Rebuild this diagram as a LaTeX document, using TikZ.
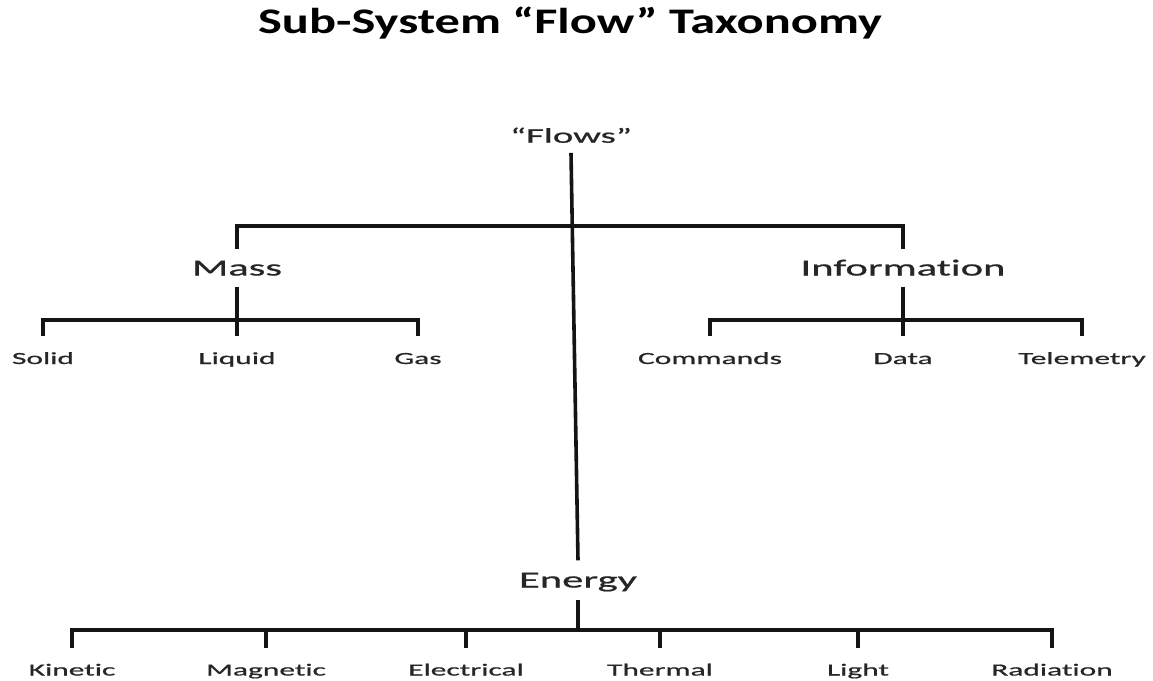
\documentclass[tikz,border=0pt]{standalone}
\usepackage{fontspec}
\setmainfont{Carlito}
% wide, tracked sans for the tree labels and a bold one for the heading
\newfontfamily\treefont[FakeStretch=1.85, FakeBold=0.8, Ligatures=NoCommon]{Carlito}
\newfontfamily\headfont[FakeStretch=1.4, Ligatures=NoCommon]{Carlito}
\begin{document}
\begin{tikzpicture}[x=1bp,y=-1bp,
  branch/.style={line width=3.6bp, draw=black!92},
  heading/.style={inner sep=0pt, text=black, font=\headfont\bfseries\fontsize{36bp}{40bp}\selectfont},
  roottext/.style={inner xsep=0pt, inner ysep=10bp, text height=13.5bp, text depth=0pt,
    text=black!85, font=\treefont\fontsize{21bp}{24bp}\selectfont},
  midtext/.style={inner xsep=0pt, inner ysep=11bp, text height=15bp, text depth=0pt,
    text=black!85, font=\treefont\fontsize{23bp}{26bp}\selectfont},
  leaftext/.style={inner xsep=0pt, inner ysep=16.5bp, text height=11bp, text depth=0pt,
    text=black!85, font=\treefont\fontsize{17bp}{20bp}\selectfont}]
\useasboundingbox[fill=white] (0,0) rectangle (1153,681);

% heading
\node[heading] (title) at (570,23) {Sub-System “Flow” Taxonomy};

% root and the three main classes
\node[roottext] (flows) at (571,136) {“Flows”};
\node[midtext] (mass) at (237,268) {Mass};
\node[midtext] (info) at (903,268) {Information};
\node[midtext, inner ysep=12bp] (energy) at (578,580) {Energy};

% leaves of Mass
\node[leaftext] (solid)  at (43,358.5)  {Solid};
\node[leaftext] (liquid) at (237,358.5) {Liquid};
\node[leaftext] (gas)    at (418,358.5) {Gas};

% leaves of Information
\node[leaftext] (cmd)  at (710,358.5)  {Commands};
\node[leaftext] (data) at (903,358.5)  {Data};
\node[leaftext] (tele) at (1082,358.5) {Telemetry};

% leaves of Energy
\node[leaftext] (kin)   at (72,670)   {Kinetic};
\node[leaftext] (mag)   at (266,670)  {Magnetic};
\node[leaftext] (elec)  at (466,670)  {Electrical};
\node[leaftext] (therm) at (660,670)  {Thermal};
\node[leaftext] (light) at (858,670)  {Light};
\node[leaftext] (rad)   at (1052,670) {Radiation};

% heights of the horizontal bars
\coordinate (topbar) at (0,226);
\coordinate (mbar) at (0,320);
\coordinate (ebar) at (0,630);

% trunk from the root down to Energy
\draw[branch] (flows.south) -- (energy.north);

% Mass / Information bar
\draw[branch] (mass.north) -- (mass.north |- topbar) -- (info.north |- topbar) -- (info.north);

% Mass subtree
\draw[branch] (mass.south) -- (liquid.north);
\draw[branch] (solid.north) -- (solid.north |- mbar) -- (gas.north |- mbar) -- (gas.north);

% Information subtree
\draw[branch] (info.south) -- (data.north);
\draw[branch] (cmd.north) -- (cmd.north |- mbar) -- (tele.north |- mbar) -- (tele.north);

% Energy subtree
\draw[branch] (energy.south) -- (energy.south |- ebar);
\draw[branch] (kin.north) -- (kin.north |- ebar) -- (rad.north |- ebar) -- (rad.north);
\draw[branch] (mag.north) -- (mag.north |- ebar);
\draw[branch] (elec.north) -- (elec.north |- ebar);
\draw[branch] (therm.north) -- (therm.north |- ebar);
\draw[branch] (light.north) -- (light.north |- ebar);
\end{tikzpicture}
\end{document}
